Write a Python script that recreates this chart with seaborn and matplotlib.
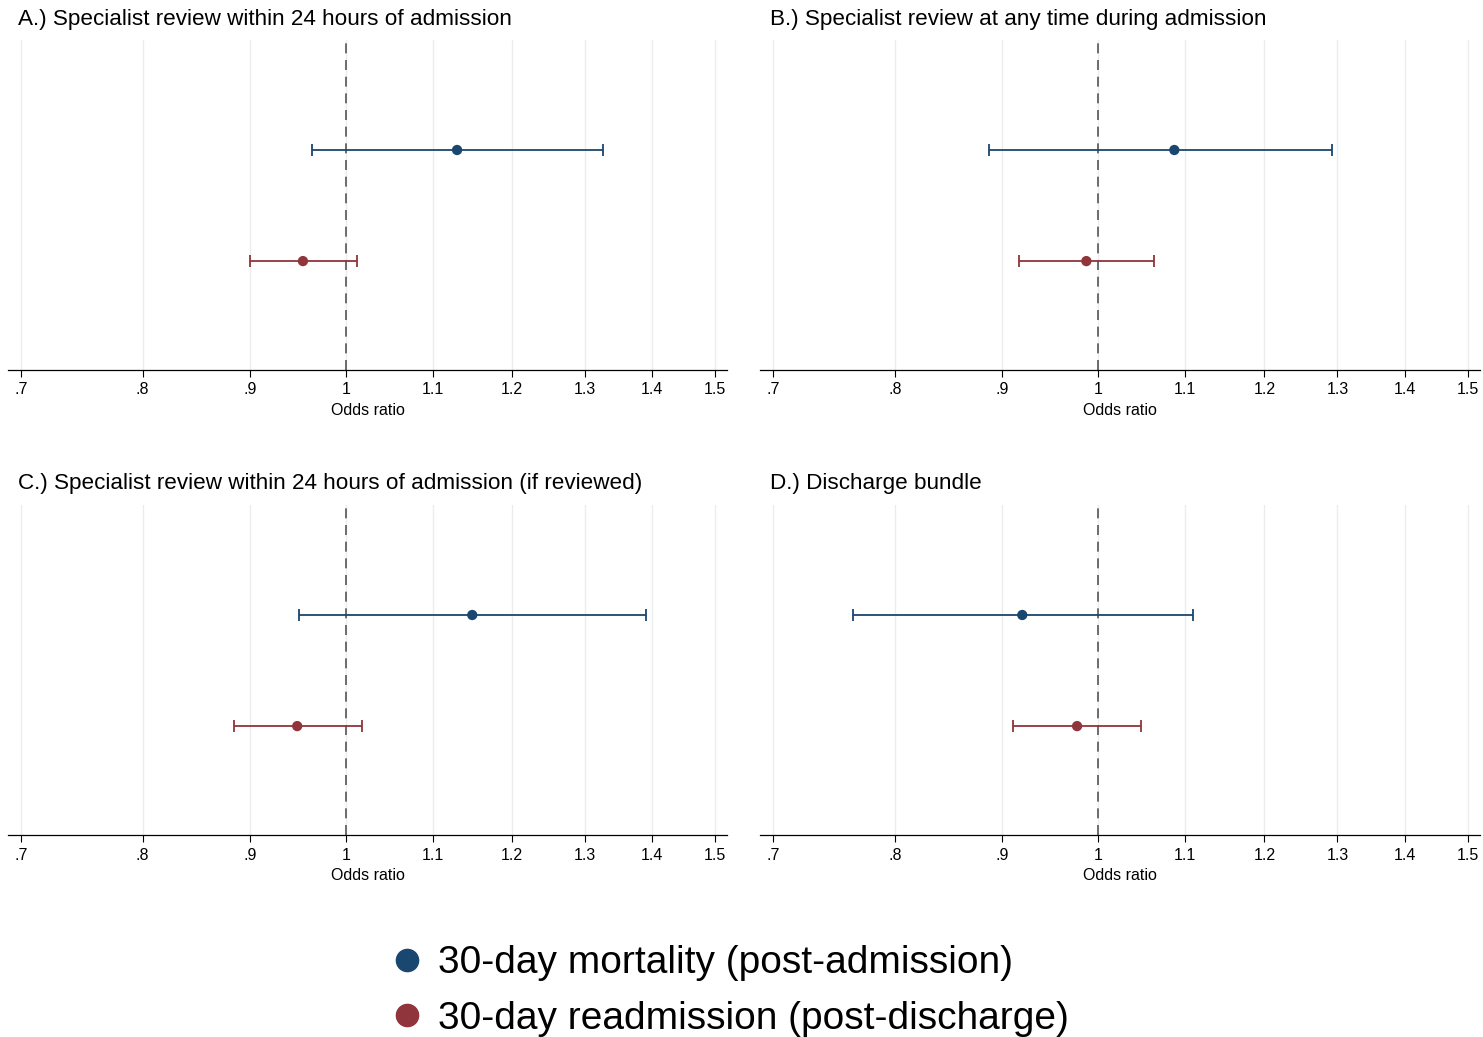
import numpy as np
import pandas as pd
import seaborn as sns
import matplotlib
matplotlib.use('Agg')
import matplotlib.pyplot as plt
from matplotlib.lines import Line2D

#---------------------Datos------------------
titulos = ['A.) Specialist review within 24 hours of admission',
           'B.) Specialist review at any time during admission',
           'C.) Specialist review within 24 hours of admission (if reviewed)',
           'D.) Discharge bundle']
resultados = ['30-day mortality (post-admission)', '30-day readmission (post-discharge)']

# odds ratio e IC 95% por panel (mortalidad, readmisión)
or_mort = [1.130, 1.087, 1.149, 0.920]
lo_mort = [0.964, 0.887, 0.950, 0.764]
hi_mort = [1.327, 1.292, 1.391, 1.110]
or_read = [0.954, 0.987, 0.948, 0.977]
lo_read = [0.900, 0.917, 0.884, 0.911]
hi_read = [1.012, 1.063, 1.018, 1.048]

ticks = [0.7, 0.8, 0.9, 1.0, 1.1, 1.2, 1.3, 1.4, 1.5]
tick_labels = ['.7', '.8', '.9', '1', '1.1', '1.2', '1.3', '1.4', '1.5']

colores = ['#1a476f', '#90353b']

sns.set_theme(style='white')
plt.rcParams['font.family'] = ['Liberation Sans', 'DejaVu Sans']
plt.rcParams['text.color'] = 'black'
plt.rcParams['axes.labelcolor'] = 'black'
plt.rcParams['xtick.color'] = 'black'

W, H = 1483, 1037
fig = plt.figure(figsize=(W / 100, H / 100), dpi=100)

# posiciones de los paneles en pixeles (izq, der, arriba, abajo)
cajas = [(8, 727, 40, 370), (760, 1480, 40, 370),
         (8, 727, 505, 835), (760, 1480, 505, 835)]
pos_titulo = [(18, 19), (770, 19), (18, 483), (770, 483)]

for i in range(4):
    l, r, t, b = cajas[i]
    ax = fig.add_axes([l / W, 1 - b / H, (r - l) / W, (b - t) / H])
    df = pd.DataFrame({
        'Resultado': resultados,
        'OR': [or_mort[i], or_read[i]],
        'lo': [lo_mort[i], lo_read[i]],
        'hi': [hi_mort[i], hi_read[i]],
        'y': [0, 1],
    })
    ax.set_xscale('log')
    for tx in ticks:
        ax.axvline(tx, color='#ececec', linewidth=1, zorder=0)
    ax.axvline(1, color='#555555', linestyle=(0, (6, 4)), linewidth=1.2, zorder=1)
    for j, fila in df.iterrows():
        ax.errorbar(fila['OR'], fila['y'],
                    xerr=[[fila['OR'] - fila['lo']], [fila['hi'] - fila['OR']]],
                    fmt='none', ecolor=colores[j], elinewidth=1.3,
                    capsize=4, capthick=1.3, zorder=2)
    sns.scatterplot(data=df, x='OR', y='y', hue='Resultado', palette=colores,
                    s=55, edgecolor='none', legend=False, ax=ax, zorder=3)
    ax.set_xlim(0.69, 1.52)
    ax.set_ylim(1.98, -0.99)
    ax.set_xticks(ticks)
    ax.set_xticklabels(tick_labels, fontsize=11.5)
    ax.xaxis.set_minor_locator(plt.NullLocator())
    ax.tick_params(axis='x', bottom=True, length=5, width=0.8, color='black', pad=4)
    ax.set_yticks([])
    ax.set_ylabel('')
    ax.set_xlabel('Odds ratio', fontsize=11.5, labelpad=4)
    for lado in ['top', 'right', 'left']:
        ax.spines[lado].set_visible(False)
    ax.spines['bottom'].set_color('black')
    ax.spines['bottom'].set_linewidth(0.9)
    fig.text(pos_titulo[i][0] / W, 1 - pos_titulo[i][1] / H, titulos[i],
             fontsize=16.2, ha='left', va='center')

# leyenda
handles = [Line2D([], [], marker='o', linestyle='none', color=c, markersize=16) for c in colores]
fig.legend(handles, resultados, loc='center', bbox_to_anchor=(728 / W, 1 - 991 / H),
           frameon=False, fontsize=28, handletextpad=0.3, labelspacing=0.5,
           handlelength=1.0)

plt.savefig('out.png', dpi=100)
